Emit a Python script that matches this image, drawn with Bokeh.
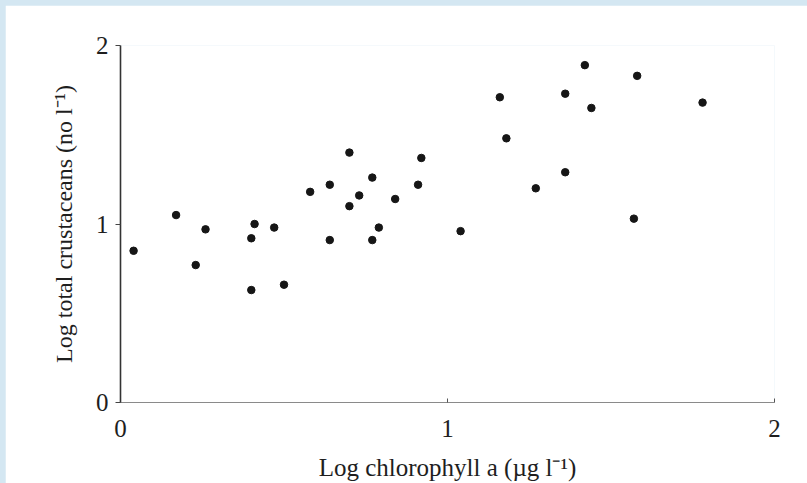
from bokeh.plotting import figure
from bokeh.models import FixedTicker, GlobalInlineStyleSheet
from bokeh.embed import file_html
from bokeh.resources import INLINE

# Data
log_chl = [0.04, 0.17, 0.23, 0.26, 0.40, 0.41, 0.40, 0.47, 0.50, 0.58, 0.64,
           0.64, 0.70, 0.70, 0.73, 0.77, 0.77, 0.79, 0.84, 0.91, 0.92, 1.04,
           1.16, 1.18, 1.27, 1.36, 1.36, 1.42, 1.44, 1.57, 1.58, 1.78]
log_crust = [0.85, 1.05, 0.77, 0.97, 0.92, 1.00, 0.63, 0.98, 0.66, 1.18, 1.22,
             0.91, 1.40, 1.10, 1.16, 0.91, 1.26, 0.98, 1.14, 1.22, 1.37, 0.96,
             1.71, 1.48, 1.20, 1.73, 1.29, 1.89, 1.65, 1.03, 1.83, 1.68]
x_ticks = [0, 1, 2]
y_ticks = [0, 1, 2]

FONT = "Liberation Serif"
TXT = "#1e1e1e"

p = figure(width=802, height=478, output_backend="svg", toolbar_location=None,
           x_range=(0, 2), y_range=(0, 2),
           min_border_left=115, min_border_right=33,
           min_border_top=40, min_border_bottom=78)
p.background_fill_color = "white"
p.border_fill_color = "white"
p.outline_line_color = None
p.xgrid.visible = False
p.ygrid.visible = False

p.scatter(log_chl, log_crust, size=7.5, color="#161616", line_color="#161616")

# x axis
xa = p.xaxis[0]
xa.ticker = FixedTicker(ticks=x_ticks)
xa.minor_tick_line_color = None
xa.axis_line_color = "#8a8a8a"
xa.axis_line_width = 1.2
xa.major_tick_in = 4
xa.major_tick_out = 0
xa.major_tick_line_color = "#555555"
xa.major_label_standoff = 17
xa.major_label_text_font = FONT
xa.major_label_text_font_size = "25px"
xa.major_label_text_color = TXT
xa.axis_label = "Log chlorophyll a (\u00b5g l\u207b\u00b9)"
xa.axis_label_text_font = FONT
xa.axis_label_text_font_size = "25px"
xa.axis_label_text_font_style = "normal"
xa.axis_label_text_color = TXT
xa.axis_label_standoff = 14

# y axis
ya = p.yaxis[0]
ya.ticker = FixedTicker(ticks=y_ticks)
ya.minor_tick_line_color = None
ya.axis_line_color = "#333333"
ya.axis_line_width = 1.6
ya.major_tick_in = 0
ya.major_tick_out = 5
ya.major_tick_line_color = "#444444"
ya.major_label_standoff = 7
ya.major_label_text_font = FONT
ya.major_label_text_font_size = "25px"
ya.major_label_text_color = TXT
ya.axis_label = "Log total crustaceans (no l\u207b\u00b9)"
ya.axis_label_text_font = FONT
ya.axis_label_text_font_size = "24px"
ya.axis_label_text_font_style = "normal"
ya.axis_label_text_color = TXT
ya.axis_label_standoff = 16

p.stylesheets = [GlobalInlineStyleSheet(
    css="html{background:#d4e7f2 !important;} "
        "body{padding:5px 0 0 5px !important; box-sizing:border-box !important; "
        "background:transparent !important;}")]

open("out.html", "w").write(file_html(p, INLINE))
